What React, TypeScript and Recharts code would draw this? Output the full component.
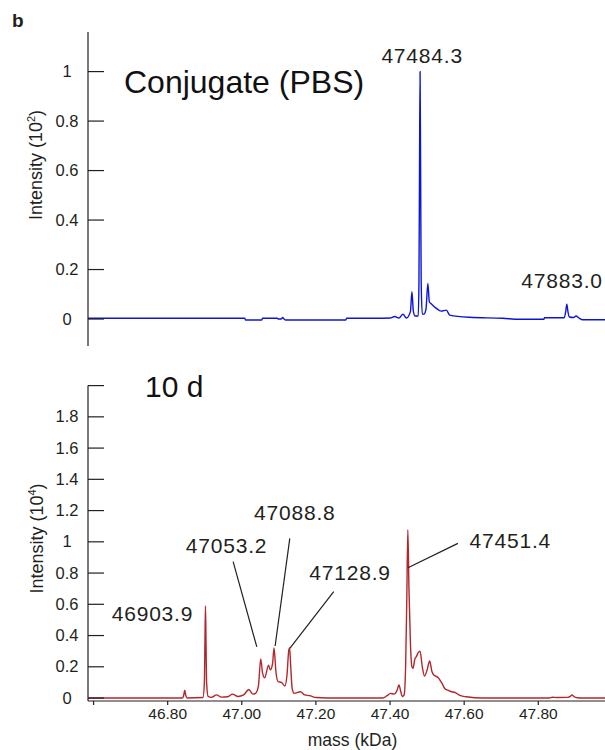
import React from "react";
import { LineChart, Line, XAxis, YAxis, ReferenceDot, ReferenceLine } from "recharts";

const FONT = '"Liberation Sans", Arial, Helvetica, sans-serif';
const INK = "#231f20";
const BLUE = "#0b16d4";
const RED = "#b3262c";

const PLOT_LEFT = 88;
const MASS_DOMAIN: [number, number] = [46.585, 47.98];

// top panel: conjugate in PBS (intensity, 10^2)
const topMass = [
  46.585, 46.7, 46.85, 47.008, 47.01, 47.054, 47.056, 47.096, 47.098, 47.106, 47.11, 47.114,
  47.118, 47.28, 47.283, 47.36, 47.4, 47.4125, 47.424, 47.435, 47.444, 47.455, 47.459, 47.463,
  47.468, 47.476, 47.478, 47.4795, 47.481, 47.4825, 47.484, 47.487, 47.4915, 47.497, 47.502,
  47.506, 47.511, 47.525, 47.538, 47.552, 47.561, 47.615, 47.704, 47.749, 47.815, 47.817, 47.87,
  47.874, 47.877, 47.88, 47.884, 47.895, 47.902, 47.91, 47.92, 47.98,
];
const topIntensity = [
  0.003, 0.003, 0.003, 0.003, -0.004, -0.004, 0.003, 0.003, 0.0, 0.0, 0.006, 0.0,
  -0.004, -0.004, 0.003, 0.003, 0.004, 0.01, 0.004, 0.02, 0.004, 0.03, 0.11, 0.03,
  0.012, 0.012, 0.15, 0.6, 1.0, 0.6, 0.15, 0.02, 0.02, 0.04, 0.144,
  0.07, 0.062, 0.043, 0.032, 0.036, 0.016, 0.007, 0.003, -0.001, -0.001, 0.005, 0.005,
  0.03, 0.06, 0.03, 0.008, 0.006, 0.012, 0.004, -0.003, -0.003,
];
const topTicks = [0, 0.2, 0.4, 0.6, 0.8, 1];
const topTickLabels = ["0", "0.2", "0.4", "0.6", "0.8", "1"];
const topPeakLabels = ["47484.3", "47883.0"];

// bottom panel: after 10 d (intensity, 10^4)
const bottomMass = [
  46.585, 46.84, 46.843, 46.846, 46.849, 46.853, 46.895, 46.899, 46.9005, 46.902, 46.9035, 46.905,
  46.909, 46.918, 46.932, 46.945, 46.962, 46.975, 46.99, 47.005, 47.019, 47.03, 47.037, 47.045,
  47.051, 47.056, 47.062, 47.072, 47.077, 47.083, 47.087, 47.092, 47.098, 47.107, 47.116, 47.122,
  47.1265, 47.129, 47.132, 47.136, 47.141, 47.158, 47.17, 47.183, 47.201, 47.23, 47.38, 47.392,
  47.401, 47.411, 47.419, 47.424, 47.429, 47.433, 47.438, 47.442, 47.445, 47.448, 47.451, 47.455,
  47.459, 47.462, 47.467, 47.471, 47.476, 47.481, 47.487, 47.493, 47.5, 47.507, 47.513, 47.518,
  47.529, 47.541, 47.548, 47.556, 47.566, 47.574, 47.59, 47.606, 47.65, 47.83, 47.838, 47.85,
  47.88, 47.887, 47.891, 47.896, 47.905, 47.92, 47.98,
];
const bottomIntensity = [
  0, 0, 0.015, 0.05, 0.015, 0, 0.003, 0.1, 0.35, 0.59, 0.35, 0.1,
  0.01, 0.004, 0.02, 0.006, 0.008, 0.025, 0.01, 0.02, 0.055, 0.025, 0.03, 0.08,
  0.25, 0.16, 0.13, 0.21, 0.18, 0.22, 0.32, 0.17, 0.105, 0.1, 0.077, 0.15,
  0.3, 0.32, 0.2, 0.06, 0.03, 0.04, 0.02, 0.015, 0.003, 0, 0, 0.015,
  0.03, 0.025, 0.05, 0.083, 0.04, 0.01, 0.02, 0.2, 0.6, 1.077, 0.7, 0.35,
  0.2, 0.19, 0.25, 0.265, 0.29, 0.3, 0.2, 0.14, 0.18, 0.237, 0.17, 0.147,
  0.133, 0.09, 0.06, 0.05, 0.04, 0.037, 0.015, 0.008, 0, 0, 0.005, 0.003,
  0.004, 0.012, 0.02, 0.01, 0.002, 0, 0,
];
const bottomTicks = [0, 0.2, 0.4, 0.6, 0.8, 1, 1.2, 1.4, 1.6, 1.8, 2];
const bottomTickLabels = ["0", "0.2", "0.4", "0.6", "0.8", "1", "1.2", "1.4", "1.6", "1.8", ""];
const bottomPeakLabels = ["46903.9", "47053.2", "47088.8", "47128.9", "47451.4"];

const massTicks = [46.6, 46.8, 47.0, 47.2, 47.4, 47.6, 47.8];
const massTickLabels = ["", "46.80", "47.00", "47.20", "47.40", "47.60", "47.80"];

// where the peak labels sit (mass, intensity) and their leader lines
const topLabelPos = [
  [47.4866, 1.063],
  [47.864, 0.156],
];
const bottomLabelPos = [
  [46.7589, 0.542],
  [46.9589, 0.976],
  [47.143, 1.188],
  [47.292, 0.803],
  [47.7246, 1.006],
];
const bottomLeaders = [
  [46.9766, 0.873, 47.0405, 0.327],
  [47.1295, 1.022, 47.0899, 0.333],
  [47.248, 0.681, 47.1295, 0.318],
  [47.5831, 0.99, 47.4483, 0.834],
];

const topData = topMass.map((m, i) => ({ mass: m, intensity: topIntensity[i] }));
const bottomData = bottomMass.map((m, i) => ({ mass: m, intensity: bottomIntensity[i] }));

function YTick(props: any) {
  const { y, payload, ticks, labels } = props;
  const label = labels[ticks.indexOf(payload.value)] ?? "";
  return (
    <g>
      <line x1={PLOT_LEFT} x2={PLOT_LEFT + 16} y1={y} y2={y} stroke={INK} strokeWidth={1.2} />
      <text x={67} y={y + 5.5} textAnchor="middle" fontSize={16.5} fill={INK} fontFamily={FONT}>
        {label}
      </text>
    </g>
  );
}

const peakLabel = (value: string) => ({
  value,
  position: "center" as const,
  fontSize: 21,
  fill: INK,
  fontFamily: FONT,
  letterSpacing: 0.8,
});

export default function App() {
  return (
    <div style={{ position: "absolute", left: 0, top: 0, width: 605, height: 750, background: "#fff", fontFamily: FONT }}>
      <div style={{ position: "absolute", left: 0, top: 0 }}>
        <LineChart width={605} height={360} data={topData} margin={{ top: 32, right: 0, bottom: 14, left: 0 }}>
          <XAxis dataKey="mass" type="number" domain={MASS_DOMAIN} allowDataOverflow hide />
          <YAxis
            type="number"
            domain={[-0.109, 1.16]}
            ticks={topTicks}
            allowDataOverflow
            width={PLOT_LEFT}
            axisLine={{ stroke: INK, strokeWidth: 1.2 }}
            tickLine={false}
            tick={(p: any) => <YTick {...p} ticks={topTicks} labels={topTickLabels} />}
          />
          <Line dataKey="intensity" type="monotone" dot={false} stroke={BLUE} strokeWidth={1.4} isAnimationActive={false} />
          {topPeakLabels.map((t, i) => (
            <ReferenceDot key={t} x={topLabelPos[i][0]} y={topLabelPos[i][1]} r={0} fill="none" stroke="none" label={peakLabel(t)} />
          ))}
        </LineChart>
      </div>

      <div style={{ position: "absolute", left: 0, top: 360 }}>
        <LineChart width={605} height={390} data={bottomData} margin={{ top: 25.6, right: 0, bottom: 0, left: 0 }}>
          <XAxis
            dataKey="mass"
            type="number"
            domain={MASS_DOMAIN}
            allowDataOverflow
            ticks={massTicks}
            tickFormatter={(v: number) => massTickLabels[massTicks.indexOf(v)] ?? ""}
            height={49}
            tickSize={4}
            tickMargin={3}
            axisLine={{ stroke: INK, strokeWidth: 1.2 }}
            tickLine={{ stroke: INK, strokeWidth: 1.2 }}
            tick={{ fontSize: 15.5, fill: INK, fontFamily: FONT }}
            label={{ value: "mass (kDa)", position: "insideBottom", offset: 4, dx: 6, fontSize: 17.5, fill: INK, fontFamily: FONT }}
          />
          <YAxis
            type="number"
            domain={[-0.019, 2]}
            ticks={bottomTicks}
            allowDataOverflow
            width={PLOT_LEFT}
            axisLine={{ stroke: INK, strokeWidth: 1.2 }}
            tickLine={false}
            tick={(p: any) => <YTick {...p} ticks={bottomTicks} labels={bottomTickLabels} />}
          />
          <Line dataKey="intensity" type="monotone" dot={false} stroke={RED} strokeWidth={1.4} isAnimationActive={false} />
          {bottomLeaders.map((s, i) => (
            <ReferenceLine
              key={i}
              segment={[{ x: s[0], y: s[1] }, { x: s[2], y: s[3] }]}
              stroke={INK}
              strokeWidth={1.2}
            />
          ))}
          {bottomPeakLabels.map((t, i) => (
            <ReferenceDot key={t} x={bottomLabelPos[i][0]} y={bottomLabelPos[i][1]} r={0} fill="none" stroke="none" label={peakLabel(t)} />
          ))}
        </LineChart>
      </div>

      <svg width={605} height={750} style={{ position: "absolute", left: 0, top: 0, pointerEvents: "none" }}>
        <text x={12} y={27} fontSize={19} fontWeight="bold" fill={INK} fontFamily={FONT}>b</text>
        <text x={124} y={93} fontSize={32} fill="#111" fontFamily={FONT}>Conjugate (PBS)</text>
        <text x={145} y={397} fontSize={30} fill="#111" fontFamily={FONT}>10 d</text>
        <text x={41.5} y={165} transform="rotate(-90 41.5 165)" textAnchor="middle" fontSize={18} fill={INK} fontFamily={FONT}>
          Intensity (10<tspan dy={-7} fontSize={11}>2</tspan><tspan dy={7}>)</tspan>
        </text>
        <text x={43} y={538.5} transform="rotate(-90 43 538.5)" textAnchor="middle" fontSize={18} fill={INK} fontFamily={FONT}>
          Intensity (10<tspan dy={-7} fontSize={11}>4</tspan><tspan dy={7}>)</tspan>
        </text>
      </svg>
    </div>
  );
}
